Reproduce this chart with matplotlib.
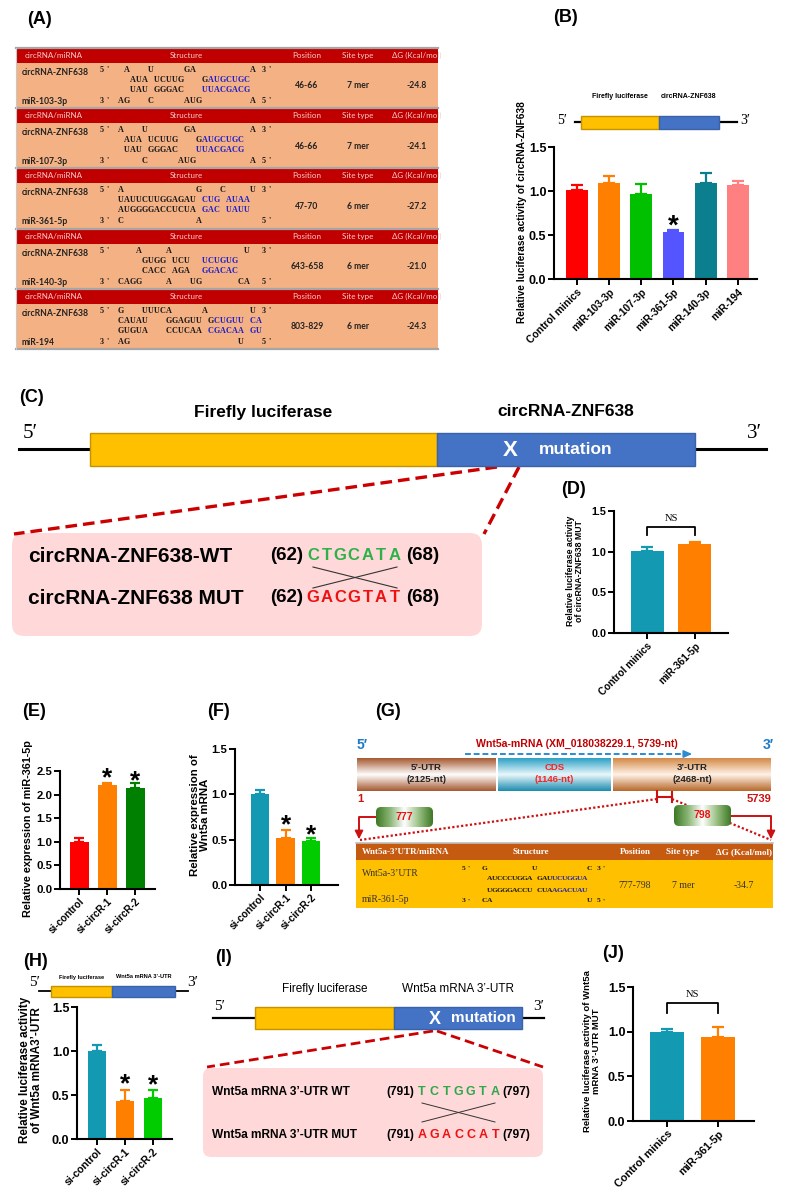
import numpy as np
import matplotlib
matplotlib.use('Agg')
import matplotlib.pyplot as plt
from matplotlib.patches import Rectangle, FancyBboxPatch
from matplotlib.colors import LinearSegmentedColormap

SANS = ['Liberation Sans', 'DejaVu Sans']
SERIF = ['Liberation Serif', 'DejaVu Serif']
LATO = ['Lato', 'Liberation Sans', 'DejaVu Sans']
plt.rcParams['font.family'] = SANS

# ------------------------------------------------------------------ data
# Panel A (prediction table)
a_header = ['circRNA/miRNA', 'Structure', 'Position', 'Site type', 'ΔG (Kcal/mol)']
a_circ = 'circRNA-ZNF638'
a_mirnas = ['miR-103-3p', 'miR-107-3p', 'miR-361-5p', 'miR-140-3p', 'miR-194']
a_positions = ['46-66', '46-66', '47-70', '643-658', '803-829']
a_site_types = ['7 mer', '7 mer', '6 mer', '6 mer', '6 mer']
a_dG = ['-24.8', '-24.1', '-27.2', '-21.0', '-24.3']
a_struct = [
    ["5'  A   U     GA         A 3'",
     "     AUA UCUUG   GAUGCUGC",
     "     UAU GGGAC   UUACGACG",
     "3' AG   C     AUG        A 5'"],
    ["5' A   U      GA         A 3'",
     "    AUA UCUUG   GAUGCUGC",
     "    UAU GGGAC   UUACGACG",
     "3'     C     AUG         A 5'"],
    ["5' A            G   C    U 3'",
     "   UAUUCUUGGAGAU CUG AUAA",
     "   AUGGGGACCUCUA GAC UAUU",
     "3' C            A          5'"],
    ["5'    A    A            U  3'",
     "       GUGG UCU  UCUGUG",
     "       CACC AGA  GGACAC",
     "3' CAGG    A   UG      CA  5'"],
    ["5' G   UUUCA     A       U 3'",
     "   CAUAU   GGAGUU GCUGUU CA",
     "   GUGUA   CCUCAA CGACAA GU",
     "3' AG                  U   5'"],
]
a_blue = [
    [[], [(18, 24)], [(17, 24)], []],
    [[], [(17, 23)], [(16, 23)], []],
    [[], [(17, 19), (21, 24)], [(17, 19), (21, 24)], []],
    [[], [(17, 22)], [(17, 22)], []],
    [[], [(19, 23), (25, 26)], [(18, 23), (25, 26)], []],
]

# Panel B
b_cats = ['Control minics', 'miR-103-3p', 'miR-107-3p', 'miR-361-5p', 'miR-140-3p', 'miR-194']
b_vals = [1.01, 1.09, 0.97, 0.53, 1.09, 1.07]
b_errs = [0.06, 0.08, 0.11, 0.03, 0.12, 0.04]
b_colors = ['#FF0000', '#FF8000', '#00C000', '#5555FF', '#0B7F8E', '#FF8080']
b_star = [None, None, None, 0.70, None, None]

# Panel C / D
c_wt_label, c_mut_label = 'circRNA-ZNF638-WT', 'circRNA-ZNF638 MUT'
c_wt_seq, c_mut_seq = 'CTGCATA', 'GACGTAT'
c_start, c_end = '(62)', '(68)'
d_cats = ['Control minics', 'miR-361-5p']
d_vals = [1.01, 1.09]
d_errs = [0.05, 0.03]
d_colors = ['#1399B2', '#FF8000']

# Panel E / F
ef_cats = ['si-control', 'si-circR-1', 'si-circR-2']
e_vals = [1.00, 2.20, 2.13]
e_errs = [0.09, 0.04, 0.11]
e_colors = ['#FF0000', '#FF8000', '#008000']
e_star = [None, 2.52, 2.46]
f_vals = [1.00, 0.52, 0.48]
f_errs = [0.05, 0.09, 0.04]
f_colors = ['#1399B2', '#FF8000', '#00CC00']
f_star = [None, 0.75, 0.64]

# Panel G
g_title = 'Wnt5a-mRNA (XM_018038229.1, 5739-nt)'
g_regions = ['5\u2019-UTR', 'CDS', '3\u2019-UTR']
g_region_len = ['(2125-nt)', '(1146-nt)', '(2468-nt)']
g_site = ['777', '798']
g_header = ['Wnt5a-3\u2019UTR/miRNA', 'Structure', 'Position', 'Site type', 'ΔG (Kcal/mol)']
g_rows = ['Wnt5a-3\u2019UTR', 'miR-361-5p']
g_struct = ["5'  G         U          C 3'",
            "     AUCCCUGGA GAUUCUGGUA",
            "     UGGGGACCU CUAAGACUAU",
            "3'  CA                   U 5'"]
g_blue = [[], [(18, 24)], [(18, 24)], []]
g_values = ['777-798', '7 mer', '-34.7']

# Panel H / I / J
h_cats = ['si-control', 'si-circR-1', 'si-circR-2']
h_vals = [1.00, 0.43, 0.47]
h_errs = [0.07, 0.13, 0.09]
h_colors = ['#1399B2', '#FF8000', '#00CC00']
h_star = [None, 0.71, 0.70]
i_wt_label, i_mut_label = 'Wnt5a mRNA 3\u2019-UTR WT', 'Wnt5a mRNA 3\u2019-UTR MUT'
i_wt_seq, i_mut_seq = 'TCTGGTA', 'AGACCAT'
i_start, i_end = '(791)', '(797)'
j_cats = ['Control minics', 'miR-361-5p']
j_vals = [1.00, 0.94]
j_errs = [0.03, 0.11]
j_colors = ['#1399B2', '#FF8000']

# ------------------------------------------------------------------ figure
W, H = 786, 1201
fig = plt.figure(figsize=(W / 100, H / 100), dpi=100)
fig.patch.set_facecolor('white')
ov = fig.add_axes([0, 0, 1, 1], zorder=0)
ov.set_axis_off()


def T(x, y, s, **kw):
    kw.setdefault('ha', 'center')
    kw.setdefault('va', 'center')
    return ov.text(x, y, s, **kw)


def draw_struct(x0, y, line, blue_ranges, pitch, size, blue='#2020C8', black='#1a1a1a'):
    for i, ch in enumerate(line):
        if ch == ' ':
            continue
        col = blue if any(a <= i <= b for a, b in blue_ranges) else black
        ov.text(x0 + i * pitch, y, ch, ha='left', va='center', fontsize=size,
                family=SERIF, fontweight='bold', color=col)


def grad_rect(x0, y0, x1, y1, cols, horizontal=False, clip=None, z=2):
    cmap = LinearSegmentedColormap.from_list('g', cols)
    arr = np.linspace(0, 1, 64)
    img = arr[None, :] if horizontal else arr[:, None]
    im = ov.imshow(img, cmap=cmap, extent=(x0, x1, y1, y0), aspect='auto',
                   origin='upper', zorder=z, interpolation='bilinear')
    if clip is not None:
        im.set_clip_path(clip)
    return im


def construct(x_line0, x_line1, y_line, xy0, xmid, xy1, h, lw_line, p5, p3, fs_prime, labels, fs_lab, y_lab, lab_kw):
    ov.plot([x_line0, x_line1], [y_line, y_line], color='black', lw=lw_line, zorder=2)
    ov.add_patch(Rectangle((xy0, y_line - h / 2), xmid - xy0, h, fc='#FFC000', ec='#C59200', lw=1, zorder=3))
    ov.add_patch(Rectangle((xmid, y_line - h / 2), xy1 - xmid, h, fc='#4472C4', ec='#3A62A8', lw=1, zorder=3))
    T(p5[0], p5[1], '5\u2032', fontsize=fs_prime, family=SERIF)
    T(p3[0], p3[1], '3\u2032', fontsize=fs_prime, family=SERIF)
    T((xy0 + xmid) / 2, y_lab, labels[0], fontsize=fs_lab, **lab_kw)
    T((xmid + xy1) / 2, y_lab, labels[1], fontsize=fs_lab, **lab_kw)


def bar_panel(rect, cats, vals, errs, colors, ymax, xlim, width, ytick_fs, xtick_fs, cap, stars=None, star_fs=20):
    xl, yt, xr, yb = rect
    ax = fig.add_axes([xl / W, 1 - yb / H, (xr - xl) / W, (yb - yt) / H], zorder=2)
    ax.patch.set_alpha(0)
    x = np.arange(len(cats))
    for xi, v, e, c in zip(x, vals, errs, colors):
        ax.errorbar(xi, v, yerr=[[0], [e]], fmt='none', ecolor=c, elinewidth=1.6,
                    capsize=cap, capthick=1.6, zorder=1, clip_on=False)
    ax.bar(x, vals, width=width, color=colors, zorder=2)
    ax.set_xlim(*xlim)
    ax.set_ylim(0, ymax)
    ticks = np.arange(0, ymax + 1e-9, 0.5)
    ax.set_yticks(ticks)
    ax.set_yticklabels([f'{t:.1f}' for t in ticks], fontsize=ytick_fs, fontweight='bold')
    ax.set_xticks(x)
    ax.set_xticklabels(cats, rotation=45, ha='right', rotation_mode='anchor',
                       fontsize=xtick_fs, fontweight='bold')
    for s in ['top', 'right']:
        ax.spines[s].set_visible(False)
    for s in ['left', 'bottom']:
        ax.spines[s].set_linewidth(1.5)
    ax.tick_params(axis='both', width=1.4, length=4, pad=1.5)
    if stars:
        for xi, s in zip(x, stars):
            if s is not None:
                ax.annotate('*', (xi, s), xytext=(0, -0.57 * star_fs), textcoords='offset points',
                            ha='center', va='baseline', fontsize=star_fs, fontweight='bold',
                            annotation_clip=False)
    return ax


def ns_bracket(ax, y_leg, y_top, y_txt, fs):
    ax.plot([0, 0, 1, 1], [y_leg, y_top, y_top, y_leg], color='black', lw=1.3, clip_on=False)
    ax.text(0.5, y_txt, 'NS', ha='center', va='center', fontsize=fs, family=SERIF)


# ------------------------------------------------------------------ panel labels
for lab, (x, y) in {'(A)': (40, 20), '(B)': (566, 18), '(C)': (32, 398), '(D)': (574, 490),
                    '(E)': (34, 712), '(F)': (218, 712), '(G)': (388, 712), '(H)': (36, 962),
                    '(I)': (223, 958), '(J)': (613, 953)}.items():
    T(x, y, lab, fontsize=13, fontweight='bold')

# ------------------------------------------------------------------ Panel A
ta_x0, ta_x1 = 16, 438
blk_h, hdr_h = 60.2, 15
hdr_x = [25, 186, 307, 358, 417]
for k in range(5):
    top = 48 + k * blk_h
    ov.add_patch(Rectangle((ta_x0, top), ta_x1 - ta_x0, hdr_h, fc='#C00000', ec='none', zorder=1))
    ov.add_patch(Rectangle((ta_x0, top + hdr_h), ta_x1 - ta_x0, blk_h - hdr_h, fc='#F4B183', ec='none', zorder=1))
    ov.plot([ta_x0, ta_x1], [top, top], color='#A6A6A6', lw=1.6, zorder=2)
    for j, (hx, ht) in enumerate(zip(hdr_x, a_header)):
        T(hx, top + 7.5, ht, fontsize=5.8, family=LATO, color='#F6CACA', ha='left' if j == 0 else 'center')
    b = top + hdr_h
    T(22, b + 9.5, a_circ, fontsize=6.2, family=LATO, fontweight='bold', ha='left', color='#222222')
    T(22, b + 38.5, a_mirnas[k], fontsize=6.2, family=LATO, fontweight='bold', ha='left', color='#222222')
    for li, dy in enumerate([7, 17, 27, 38]):
        draw_struct(100, b + dy, a_struct[k][li], a_blue[k][li], 6.0, 5.9)
    for hx, val in zip(hdr_x[2:], [a_positions[k], a_site_types[k], a_dG[k]]):
        T(hx, b + 23, val, fontsize=6.2, family=LATO, fontweight='bold', color='#222222')
ov.plot([ta_x0, ta_x1], [48 + 5 * blk_h, 48 + 5 * blk_h], color='#A6A6A6', lw=1.6, zorder=2)
ov.plot([ta_x0, ta_x0], [48, 48 + 5 * blk_h], color='#C8C8C8', lw=0.8, zorder=2)

# ------------------------------------------------------------------ Panel B
construct(575, 737, 122, 581, 659, 719, 13, 1.6, (562, 121), (745, 121), 10,
          ['Firefly luciferase', 'circRNA-ZNF638'], 5.0, 96, dict(fontweight='bold'))
axB = bar_panel((554, 147, 757, 279), b_cats, b_vals, b_errs, b_colors, 1.5, (-0.72, 5.6), 0.68,
                9, 7.4, 4.5, stars=b_star, star_fs=20)
T(522, 212, 'Relative luciferase activity of circRNA-ZNF638', rotation=90, fontsize=7.3, fontweight='bold')

# ------------------------------------------------------------------ Panel C
construct(19, 766, 449, 90, 437, 695, 33, 2.2, (30, 433), (754, 433), 15,
          ['Firefly luciferase', 'circRNA-ZNF638'], 12.5, 412, dict(fontweight='bold'))
T(510, 450, 'X', fontsize=16, fontweight='bold', color='white', zorder=5)
T(576, 450, 'mutation', fontsize=12.5, fontweight='bold', color='white', zorder=5)
ov.plot([497, 14], [467, 534], color='#CC0000', lw=2.4, ls=(0, (3.5, 1.8)), zorder=2)
ov.plot([519, 484], [467, 534], color='#CC0000', lw=2.4, ls=(0, (3.5, 1.8)), zorder=2)
ov.add_patch(FancyBboxPatch((12, 533), 470, 103, boxstyle='round,pad=0,rounding_size=12',
                            fc='#FFD9D9', ec='none', zorder=1))
T(28, 556, c_wt_label, fontsize=15, fontweight='bold', ha='left', zorder=3)
T(28, 598, c_mut_label, fontsize=15, fontweight='bold', ha='left', zorder=3)
for yy, seq, col in [(556, c_wt_seq, '#2DB24A'), (598, c_mut_seq, '#EE1111')]:
    T(270, yy, c_start, fontsize=13.5, fontweight='bold', ha='left', zorder=3)
    for i, ch in enumerate(seq):
        T(313 + i * 13.6, yy, ch, fontsize=12, fontweight='bold', color=col, zorder=3)
    T(406, yy, c_end, fontsize=13.5, fontweight='bold', ha='left', zorder=3)
ov.plot([313, 397], [567, 588], color='#333333', lw=0.8, zorder=3)
ov.plot([313, 397], [588, 567], color='#333333', lw=0.8, zorder=3)

# ------------------------------------------------------------------ Panel D
axD = bar_panel((614, 511, 728, 633), d_cats, d_vals, d_errs, d_colors, 1.5, (-0.69, 1.69), 0.69,
                7.8, 7.2, 4.5)
ns_bracket(axD, 1.20, 1.30, 1.41, 7.5)
T(575, 571, 'Relative luciferase activity\nof circRNA-ZNF638 MUT', rotation=90, fontsize=6.3,
  fontweight='bold', linespacing=1.05)

# ------------------------------------------------------------------ Panel E / F
axE = bar_panel((60, 771, 155, 889), ef_cats, e_vals, e_errs, e_colors, 2.5, (-0.68, 2.71), 0.68,
                8.2, 7.2, 3.8, stars=e_star, star_fs=19)
T(28, 829, 'Relative expression of miR-361-5p', rotation=90, fontsize=7.8, fontweight='bold')
axF = bar_panel((235, 749, 338, 885), ef_cats, f_vals, f_errs, f_colors, 1.5, (-0.98, 3.05), 0.73,
                8.2, 7.2, 3.8, stars=f_star, star_fs=19)
T(200, 815, 'Relative expression of\nWnt5a mRNA', rotation=90, fontsize=8.2, fontweight='bold',
  linespacing=1.05)

# ------------------------------------------------------------------ Panel G
T(362, 745, '5\u2032', fontsize=10, fontweight='bold', color='#1F7BC8')
T(768, 745, '3\u2032', fontsize=10, fontweight='bold', color='#1F7BC8')
T(577, 744, g_title, fontsize=7.6, fontweight='bold', color='#C00000')
ov.plot([465, 684], [754, 754], color='#2E8BD0', lw=1.4, ls=(0, (3, 1.5)), zorder=2)
ov.annotate('', xy=(695, 754), xytext=(682, 754),
            arrowprops=dict(arrowstyle='-|>,head_length=0.5,head_width=0.22', color='#2E8BD0', lw=1.2))
g_x = [(357, 496), (498, 611), (613, 771)]
g_cols = [['#A65A32', '#FFFFFF', '#A65A32'], ['#2FA2C6', '#EAF8FC', '#1E8CB0'],
          ['#D48A48', '#FFF3E8', '#B86A2C']]
for (x0, x1), cols, name, ln in zip(g_x, g_cols, g_regions, g_region_len):
    grad_rect(x0, 758, x1, 791, cols)
    col = '#FF2020' if name == 'CDS' else '#222222'
    T((x0 + x1) / 2, 768, name, fontsize=6.8, fontweight='bold', color=col, zorder=3)
    T((x0 + x1) / 2, 780, ln, fontsize=6.8, fontweight='bold', color=col, zorder=3)
T(360, 799, '1', fontsize=8, fontweight='bold', color='#CC1111')
T(759, 799, '5739', fontsize=8, fontweight='bold', color='#CC1111')
ov.plot([657, 672], [797, 797], color='#CC1111', lw=1.5, zorder=3)
ov.plot([657, 657], [791, 802], color='#CC1111', lw=1.5, zorder=3)
ov.plot([672, 672], [792, 802], color='#CC1111', lw=1.5, zorder=3)
ov.plot([657, 360], [799, 840], color='#CC1111', lw=1.6, ls=(0, (1, 1)), zorder=2)
ov.plot([672, 771], [799, 840], color='#CC1111', lw=1.6, ls=(0, (1, 1)), zorder=2)
for (x0, x1, y0, y1), txt in zip([(376, 433, 807, 827), (674, 731, 805, 826)], g_site):
    box = FancyBboxPatch((x0, y0), x1 - x0, y1 - y0, boxstyle='round,pad=0,rounding_size=5',
                         fc='none', ec='none', zorder=4)
    ov.add_patch(box)
    grad_rect(x0, y0, x1, y1, ['#3E7A26', '#8DB878', '#FFFFFF', '#9CC286', '#3E7A26'],
              horizontal=True, clip=box, z=4)
    T((x0 + x1) / 2, (y0 + y1) / 2, txt, fontsize=7.5, fontweight='bold', color='#EE1111', zorder=5)
ov.plot([376, 359, 359], [817, 817, 834], color='#CC1111', lw=1.4, zorder=3)
ov.plot([731, 771, 771], [816, 816, 834], color='#CC1111', lw=1.4, zorder=3)
for xa in [359, 771]:
    ov.annotate('', xy=(xa, 842), xytext=(xa, 832),
                arrowprops=dict(arrowstyle='-|>,head_length=0.5,head_width=0.25', color='#CC1111', lw=1.2))
ov.add_patch(Rectangle((356, 843), 417, 17, fc='#C55A11', ec='none', zorder=2))
ov.add_patch(Rectangle((356, 860), 417, 48, fc='#FFC000', ec='none', zorder=2))
ov.plot([356, 773], [843, 843], color='#BFBFBF', lw=1.2, zorder=3)
g_hx = [362, 531, 635, 683, 744]
for j, (hx, ht) in enumerate(zip(g_hx, g_header)):
    T(hx, 852, ht, fontsize=6.5, family=SERIF, fontweight='bold', color='white',
      ha='left' if j == 0 else 'center', zorder=3)
T(362, 873, g_rows[0], fontsize=7, family=SERIF, ha='left', color='#333333', zorder=3)
T(362, 899, g_rows[1], fontsize=7, family=SERIF, ha='left', color='#333333', zorder=3)
for li, yy in enumerate([868, 879, 890, 901]):
    draw_struct(462, yy, g_struct[li], g_blue[li], 5.0, 5.4, blue='#2626A8')
for hx, val in zip(g_hx[2:], g_values):
    T(hx, 886, val, fontsize=7, family=SERIF, color='#333333', zorder=3)

# ------------------------------------------------------------------ Panel H
construct(39, 188, 991, 51, 112, 175, 11, 1.3, (35, 983), (193, 983), 11,
          ['Firefly luciferase', 'Wnt5a mRNA 3\u2019-UTR'], 4.1, 977, dict(fontweight='bold'))
axH = bar_panel((77, 1007, 172, 1139), h_cats, h_vals, h_errs, h_colors, 1.5, (-0.71, 2.68), 0.67,
                9, 7.6, 3.8, stars=h_star, star_fs=19)
T(31, 1070, 'Relative luciferase activity\nof Wnt5a mRNA3\u2019-UTR', rotation=90, fontsize=8.4,
  fontweight='bold', linespacing=1.0)

# ------------------------------------------------------------------ Panel I
construct(213, 544, 1018, 255, 394, 522, 22, 1.6, (220, 1006), (539, 1006), 11,
          ['Firefly luciferase', 'Wnt5a mRNA 3\u2019-UTR'], 8.5, 989, dict())
T(435, 1019, 'X', fontsize=13, fontweight='bold', color='white', zorder=5)
T(483, 1018, 'mutation', fontsize=11, fontweight='bold', color='white', zorder=5)
ov.plot([433, 207], [1031, 1067], color='#CC0000', lw=2.0, ls=(0, (3.5, 1.8)), zorder=2)
ov.plot([437, 543], [1031, 1067], color='#CC0000', lw=2.0, ls=(0, (3.5, 1.8)), zorder=2)
ov.add_patch(FancyBboxPatch((203, 1068), 340, 89, boxstyle='round,pad=0,rounding_size=8',
                            fc='#FFD9D9', ec='none', zorder=1))
T(212, 1092, i_wt_label, fontsize=8.6, fontweight='bold', ha='left', zorder=3)
T(212, 1135, i_mut_label, fontsize=8.6, fontweight='bold', ha='left', zorder=3)
for yy, seq, col in [(1092, i_wt_seq, '#2DA84A'), (1135, i_mut_seq, '#EE1111')]:
    T(386, yy, i_start, fontsize=8.6, fontweight='bold', ha='left', zorder=3)
    for i, ch in enumerate(seq):
        T(422 + i * 12.2, yy, ch, fontsize=9, fontweight='bold', color=col, zorder=3)
    T(502, yy, i_end, fontsize=8.6, fontweight='bold', ha='left', zorder=3)
ov.plot([422, 495], [1122, 1103], color='#333333', lw=0.7, zorder=3)
ov.plot([422, 495], [1103, 1122], color='#333333', lw=0.7, zorder=3)

# ------------------------------------------------------------------ Panel J
axJ = bar_panel((633, 987, 754, 1121), j_cats, j_vals, j_errs, j_colors, 1.5, (-0.67, 1.71), 0.66,
                9, 7.8, 4.5)
ns_bracket(axJ, 1.21, 1.32, 1.42, 7.5)
T(592, 1051, 'Relative luciferase activity of Wnt5a\nmRNA 3\u2019-UTR MUT', rotation=90, fontsize=6.8,
  fontweight='bold', linespacing=1.05)

ov.set_xlim(0, W)
ov.set_ylim(H, 0)
fig.savefig('out.png', dpi=100, facecolor='white')
